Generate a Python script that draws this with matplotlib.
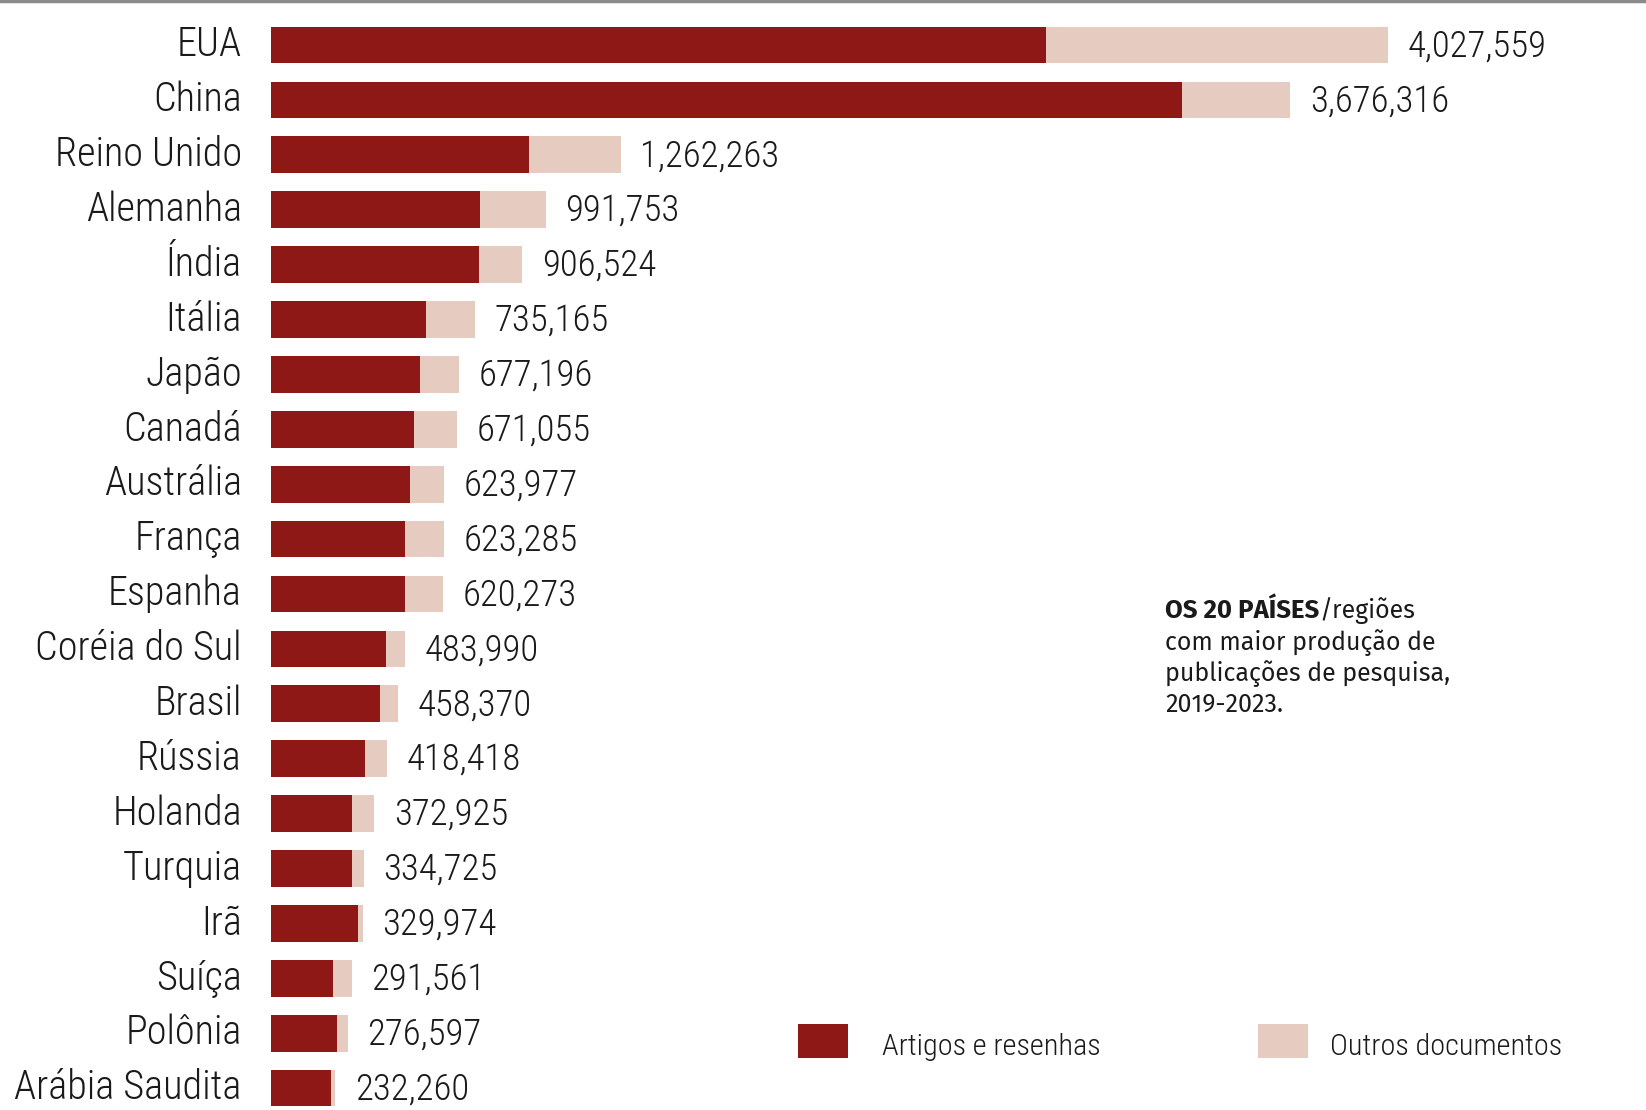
import matplotlib
matplotlib.use("Agg")
import matplotlib.pyplot as plt
from matplotlib.patches import Rectangle
from matplotlib.lines import Line2D

# Data
countries = ['EUA', 'China', 'Reino Unido', 'Alemanha', 'Índia', 'Itália', 'Japão',
             'Canadá', 'Austrália', 'França', 'Espanha', 'Coréia do Sul', 'Brasil',
             'Rússia', 'Holanda', 'Turquia', 'Irã', 'Suíça', 'Polônia', 'Arábia Saudita']
totals = [4027559, 3676316, 1262263, 991753, 906524, 735165, 677196,
          671055, 623977, 623285, 620273, 483990, 458370,
          418418, 372925, 334725, 329974, 291561, 276597, 232260]
articles = [2795000, 3285000, 930000, 754000, 750000, 559000, 537000,
            516000, 501000, 483000, 483000, 415000, 393000,
            339000, 292000, 292000, 314000, 224000, 238000, 216000]
others = [t - a for t, a in zip(totals, articles)]

legend_labels = ['Artigos e resenhas', 'Outros documentos']
note_bold = 'OS 20 PAÍSES'
note_rest = '/regiões'
note_lines = ['com maior produção de', 'publicações de pesquisa,', '2019-2023.']

COLORS = {'dark': '#8E1815', 'light': '#E6CBC0', 'text': '#1A1A1A'}
COND = ['Roboto Condensed', 'DejaVu Sans']
NOTE = ['Fira Sans', 'DejaVu Sans']

W, H = 1646, 1110
fig = plt.figure(figsize=(W / 100, H / 100), dpi=100)
ax = fig.add_axes([0, 0, 1, 1])

# pixel mapping: bars start at x=271px, 277.3 px per million, rows 54.9px apart
x0, px_per_unit = 271, 277.3e-6
row0, row_h = 45, 54.9
ax.set_xlim(-x0 / px_per_unit, (W - x0) / px_per_unit)
ax.set_ylim((H - row0) / row_h, -row0 / row_h)
ax.axis('off')

ypos = list(range(len(countries)))
ax.barh(ypos, articles, height=0.67, color=COLORS['dark'], linewidth=0)
ax.barh(ypos, others, left=articles, height=0.67, color=COLORS['light'], linewidth=0)

for i, (name, tot) in enumerate(zip(countries, totals)):
    ax.annotate(name, xy=(0, i), xytext=(-21, 0), textcoords='offset points',
                ha='right', va='center', fontsize=29, family=COND, fontweight=300,
                color=COLORS['text'])
    ax.annotate(f'{tot:,}', xy=(tot, i), xytext=(14, -1), textcoords='offset points',
                ha='left', va='center', fontsize=26.5, family=COND, fontweight=300,
                color=COLORS['text'])

# top rule
fig.add_artist(Line2D([0, 1], [1 - 1 / H, 1 - 1 / H], color='#8A8A8A', lw=2.5))

# note text
nx, ny = 1165 / W, 1 - 618 / H
t = fig.text(nx, ny, note_bold, fontsize=18.5, family=NOTE, fontweight=700,
             color=COLORS['text'], va='baseline')
fig.canvas.draw()
bb = t.get_window_extent()
fig.text(bb.x1 / W, ny, note_rest, fontsize=18, family=NOTE, fontweight=400,
         color=COLORS['text'], va='baseline')
for k, line in enumerate(note_lines):
    fig.text(nx, ny - (k + 1) * 31.5 / H, line, fontsize=18, family=NOTE,
             fontweight=400, color=COLORS['text'], va='baseline')

# legend
for (sx, tx), lab, col in zip([(798, 882), (1258, 1330)], legend_labels,
                              [COLORS['dark'], COLORS['light']]):
    fig.add_artist(Rectangle((sx / W, 1 - 1058 / H), 50 / W, 34 / H,
                             transform=fig.transFigure, color=col, lw=0))
    fig.text(tx / W, 1 - 1047 / H, lab, fontsize=21.8, family=COND, fontweight=300,
             color=COLORS['text'], va='center')

fig.savefig('out.png', dpi=100, facecolor='white')
